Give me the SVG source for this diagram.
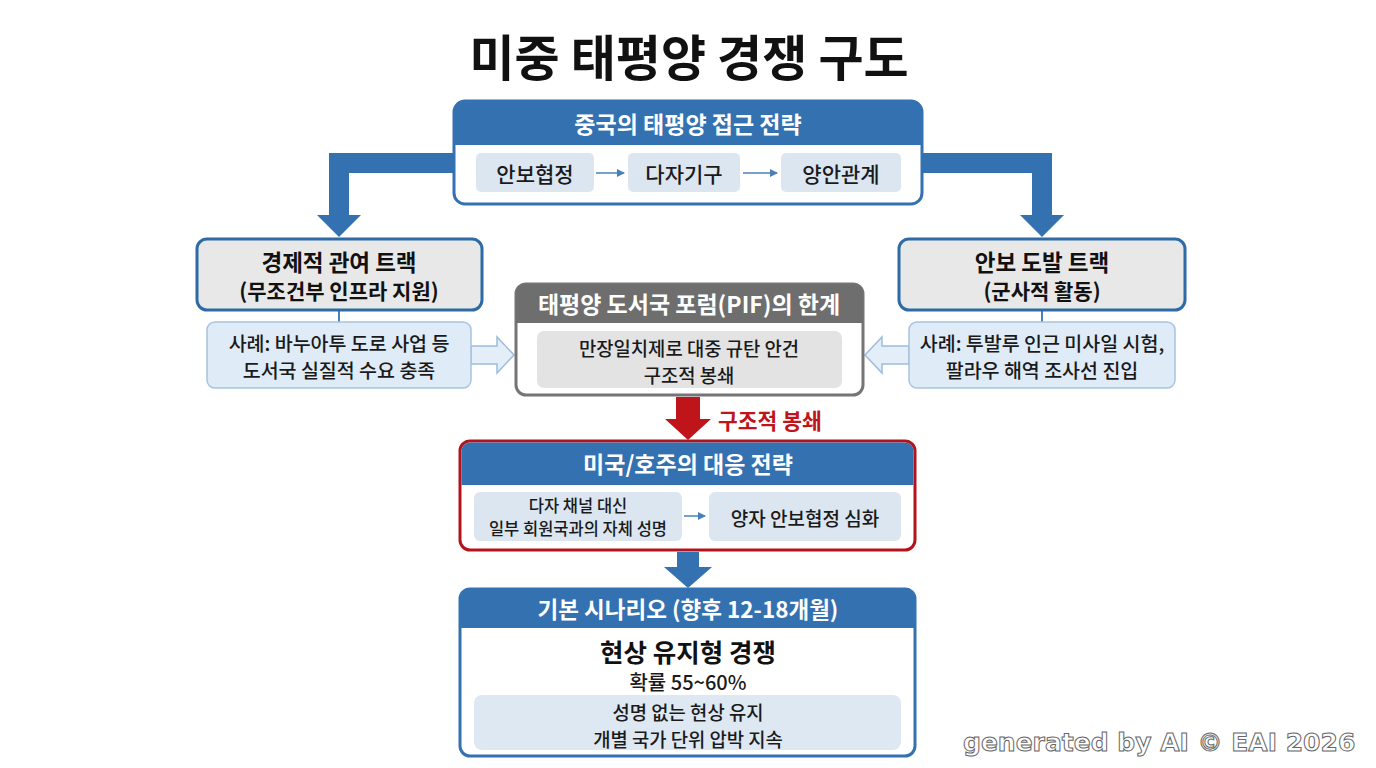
<svg xmlns="http://www.w3.org/2000/svg" width="1376" height="768" viewBox="0 0 1376 768">
<defs>
<style>
text{font-family:"Noto Sans CJK KR","Noto Sans",sans-serif;text-anchor:middle;dominant-baseline:central}
.title{font-size:49px;font-weight:700;fill:#111}
.hdr{font-size:23px;font-weight:700;fill:#fff}
.pill{fill:#dbe6f1}
.pt{font-size:21px;font-weight:500;fill:#1a1a1a}
.trk{font-size:22.5px;font-weight:700;fill:#111}
.trk2{font-size:21px;font-weight:600;fill:#111}
.case{fill:#dfebf7;stroke:#a7c3df;stroke-width:1.5}
.ct{font-size:19.5px;font-weight:500;fill:#1a1a1a}
.ct2{font-size:18.8px;font-weight:500;fill:#1a1a1a}
.blue{fill:#3471b0}
.wm{font-family:"DejaVu Sans",sans-serif;font-size:25px;font-weight:700;fill:#fff;stroke:#666;stroke-width:1;text-anchor:start}
</style>
<marker id="sa" markerWidth="8" markerHeight="8" refX="7" refY="4" orient="auto" markerUnits="userSpaceOnUse"><path d="M0,0 L8,4 L0,8 z" fill="#4a80b8"/></marker>
</defs>
<rect width="1376" height="768" fill="#fff"/>
<text class="title" x="689" y="54">미중 태평양 경쟁 구도</text>

<g id="connectors">
<path class="blue" d="M453,153 H329 V215 H317 L339,237 L361,215 H349 V173 H453 Z"/>
<path class="blue" d="M923,153 H1052 V215 H1064 L1042,237 L1020,215 H1032 V173 H923 Z"/>
<line x1="339" y1="310" x2="339" y2="322" stroke="#4a80b8" stroke-width="2"/>
<line x1="1042" y1="310" x2="1042" y2="322" stroke="#4a80b8" stroke-width="2"/>
<path d="M471,346 H497 V337 L514,355 L497,373 V364 H471 Z" fill="#e3eef9" stroke="#9dbddc" stroke-width="1.5"/>
<path d="M909,346 H882 V337 L865,355 L882,373 V364 H909 Z" fill="#e3eef9" stroke="#9dbddc" stroke-width="1.5"/>
<path d="M676,397 H700 V419 H711 L688,440 L665,419 H676 Z" fill="#c0141b"/>
<text x="718" y="419" style="font-size:21.5px;font-weight:700;fill:#c0141b;text-anchor:start">구조적 봉쇄</text>
<path class="blue" d="M677,552 H699 V567 H712 L688,588 L664,567 H677 Z"/>
</g>

<g id="china">
<rect x="454" y="101" width="468" height="103" rx="11" fill="#fff" stroke="#3471b0" stroke-width="3"/>
<path class="blue" d="M454,145 V112 Q454,101 465,101 H911 Q922,101 922,112 V145 Z"/>
<text class="hdr" x="688" y="123">중국의 태평양 접근 전략</text>
<rect class="pill" x="476" y="153" width="118" height="39" rx="5"/>
<text class="pt" x="535" y="173">안보협정</text>
<rect class="pill" x="628" y="153" width="112" height="39" rx="5"/>
<text class="pt" x="684" y="173">다자기구</text>
<rect class="pill" x="781" y="153" width="120" height="39" rx="5"/>
<text class="pt" x="841" y="173">양안관계</text>
<line x1="596" y1="173" x2="624" y2="173" stroke="#4a80b8" stroke-width="1.5" marker-end="url(#sa)"/>
<line x1="743" y1="173" x2="777" y2="173" stroke="#4a80b8" stroke-width="1.5" marker-end="url(#sa)"/>
</g>

<g id="econ">
<rect x="197" y="239" width="285" height="71" rx="10" fill="#e8e8e8" stroke="#2d6aa6" stroke-width="3"/>
<text class="trk" x="339" y="261">경제적 관여 트랙</text>
<text class="trk2" x="339" y="290">(무조건부 인프라 지원)</text>
</g>
<g id="econ-case">
<rect class="case" x="207" y="322" width="264" height="66" rx="8"/>
<text class="ct" x="339" y="342">사례: 바누아투 도로 사업 등</text>
<text class="ct" x="339" y="369">도서국 실질적 수요 충족</text>
</g>

<g id="sec">
<rect x="899" y="239" width="286" height="71" rx="10" fill="#e8e8e8" stroke="#2d6aa6" stroke-width="3"/>
<text class="trk" x="1042" y="261">안보 도발 트랙</text>
<text class="trk2" x="1042" y="290">(군사적 활동)</text>
</g>
<g id="sec-case">
<rect class="case" x="909" y="322" width="266" height="66" rx="8"/>
<text class="ct" x="1042" y="342">사례: 투발루 인근 미사일 시험,</text>
<text class="ct" x="1042" y="369">팔라우 해역 조사선 진입</text>
</g>

<g id="pif">
<rect x="516" y="284" width="347" height="111" rx="10" fill="#fff" stroke="#757575" stroke-width="3"/>
<path d="M516,323 V294 Q516,284 526,284 H853 Q863,284 863,294 V323 Z" fill="#6e6e6e"/>
<text class="hdr" x="689" y="303">태평양 도서국 포럼(PIF)의 한계</text>
<rect x="537" y="331" width="305" height="57" rx="7" fill="#e3e3e3"/>
<text class="ct2" x="689" y="347">만장일치제로 대중 규탄 안건</text>
<text class="ct2" x="689" y="374">구조적 봉쇄</text>
</g>

<g id="usau">
<rect x="460" y="441" width="455" height="109" rx="10" fill="#fff" stroke="#b3141b" stroke-width="3"/>
<path class="blue" d="M461.5,485 V452 Q461.5,442.5 471,442.5 H904 Q913.5,442.5 913.5,452 V485 Z"/>
<text class="hdr" x="688" y="463">미국/호주의 대응 전략</text>
<rect class="pill" x="474" y="492" width="208" height="49" rx="6"/>
<text x="578" y="505" style="font-size:16.5px;font-weight:500;fill:#1a1a1a">다자 채널 대신</text>
<text x="578" y="528" style="font-size:16.5px;font-weight:500;fill:#1a1a1a">일부 회원국과의 자체 성명</text>
<line x1="684" y1="516" x2="705" y2="516" stroke="#4a80b8" stroke-width="1.5" marker-end="url(#sa)"/>
<rect class="pill" x="709" y="492" width="192" height="49" rx="6"/>
<text x="805" y="517" style="font-size:19px;font-weight:500;fill:#1a1a1a">양자 안보협정 심화</text>
</g>

<g id="scenario">
<rect x="460" y="589" width="455" height="167" rx="10" fill="#fff" stroke="#3471b0" stroke-width="3"/>
<path class="blue" d="M460,628 V599 Q460,589 470,589 H905 Q915,589 915,599 V628 Z"/>
<text class="hdr" x="688" y="608" style="font-size:22.5px">기본 시나리오 (향후 12-18개월)</text>
<text x="688" y="650" style="font-size:25.5px;font-weight:700;fill:#111">현상 유지형 경쟁</text>
<text x="688" y="681" style="font-size:20px;font-weight:500;fill:#1a1a1a">확률 55~60%</text>
<rect x="474" y="695" width="427" height="55" rx="8" fill="#dde8f3"/>
<text class="ct2" x="688" y="711">성명 없는 현상 유지</text>
<text class="ct2" x="688" y="738">개별 국가 단위 압박 지속</text>
</g>

<text class="wm" x="963" y="742">generated by AI © EAI 2026</text>
</svg>
